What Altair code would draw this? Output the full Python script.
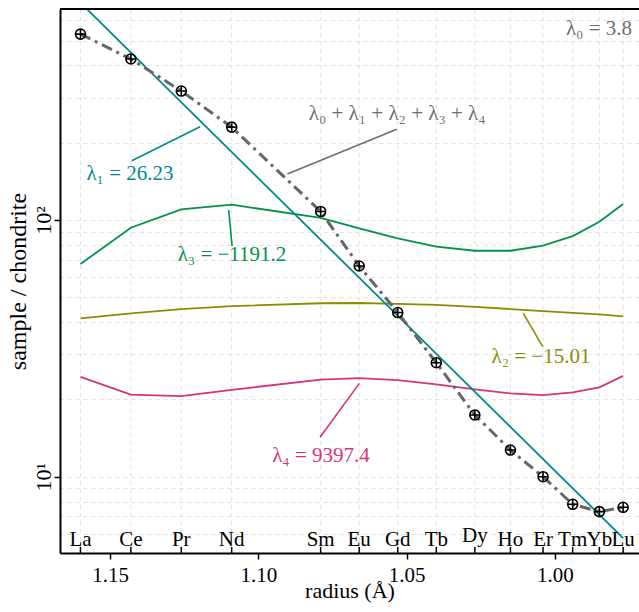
import altair as alt
import pandas as pd

# ---------------- data ----------------
elements = ["La", "Ce", "Pr", "Nd", "Sm", "Eu", "Gd", "Tb", "Dy", "Ho", "Er", "Tm", "Yb", "Lu"]
radius = [1.160, 1.143, 1.126, 1.109, 1.079, 1.066, 1.053, 1.040, 1.027, 1.015, 1.004, 0.994, 0.985, 0.977]
sample = [530, 424, 318, 230, 108, 66.2, 43.6, 27.8, 17.4, 12.7, 10.0, 7.81, 7.31, 7.60]

lambda1_r = [1.160, 0.977]
lambda1_v = [702, 5.77]
lambda2 = [41.4, 43.3, 45.0, 46.2, 47.4, 47.5, 47.1, 46.7, 45.9, 45.0, 44.2, 43.5, 42.9, 42.1]
lambda3 = [67.4, 93.3, 110.1, 114.7, 102.0, 92.8, 84.9, 78.8, 75.9, 75.9, 79.4, 86.6, 98.5, 115.4]
lambda4 = [24.5, 20.9, 20.6, 21.8, 23.9, 24.2, 23.8, 22.9, 21.9, 21.1, 20.8, 21.3, 22.3, 24.7]

x_tick_values = [1.15, 1.10, 1.05, 1.00]
y_grid_values = [5, 6, 7, 8, 9, 10, 20, 30, 40, 50, 60, 70, 80, 90, 100, 200, 300, 400, 500, 600]
y_tick_values = [10, 100]
y_tick_labels = ["10¹", "10²"]

ann_text = ["λ₀ = 3.8", "λ₀ + λ₁ + λ₂ + λ₃ + λ₄", "λ₁ = 26.23", "λ₃ = −1191.2", "λ₂ = −15.01", "λ₄ = 9397.4"]
ann_r = [0.974, 1.0532, 1.1433, 1.1089, 1.0047, 1.0789]
ann_v = [525.7, 245.3, 143.2, 69.2, 27.7, 11.41]
ann_key = ["sum", "sum", "l1", "l3", "l2", "l4"]
ann_align = ["right", "center", "center", "center", "center", "center"]

lead_key = ["sum", "l1", "l3", "l2", "l4"]
lead_r1 = [1.05334, 1.14268, 1.1100, 1.01065, 1.0792]
lead_v1 = [225.6, 170.2, 109.4, 43.3, 14.24]
lead_r2 = [1.09022, 1.11966, 1.10887, 1.00411, 1.06595]
lead_v2 = [151.1, 230.9, 79.2, 32.1, 23.1]

# ---------------- styles ----------------
FONT = "Liberation Serif"
COLORS = {"sum": "#6e6e6e", "l1": "#00898c", "l2": "#8c8c00", "l3": "#00924a", "l4": "#d8327a"}
W, H = 579, 544

x_scale = alt.Scale(domain=[0.97164, 1.1669], reverse=True, nice=False, zero=False)
y_scale = alt.Scale(type="log", domain=[5.045, 663.7], nice=False)

df = pd.DataFrame({"element": elements, "radius": radius, "sample": sample})

long_rows = []
for key, vals in (("l2", lambda2), ("l3", lambda3), ("l4", lambda4)):
    for r, v in zip(radius, vals):
        long_rows.append({"series": key, "radius": r, "value": v, "col": COLORS[key]})
lam_df = pd.DataFrame(long_rows)
l1_df = pd.DataFrame({"radius": lambda1_r, "value": lambda1_v})

ann_df = pd.DataFrame({"text": ann_text, "radius": ann_r, "value": ann_v,
                       "col": [COLORS[k] for k in ann_key], "align": ann_align})
lead_df = pd.DataFrame({"r1": lead_r1, "v1": lead_v1, "r2": lead_r2, "v2": lead_v2,
                        "col": [COLORS[k] for k in lead_key]})

label_expr = " : ".join(
    [f"datum.value == {v} ? '{t}'" for v, t in zip(y_tick_values, y_tick_labels)]) + " : ''"
tick_test = " || ".join([f"datum.value == {v}" for v in y_tick_values])

x_axis = alt.Axis(values=x_tick_values, format=".2f", grid=False, tickSize=6, tickWidth=1.5,
                  tickColor="black", domainColor="black", domainWidth=2,
                  labelFont=FONT, labelFontSize=21, labelColor="black", labelPadding=5,
                  title="radius (Å)", titleFont=FONT, titleFontSize=22, titleFontWeight="normal",
                  titleColor="black", titleBaseline="alphabetic", titleY=44)

y_axis = alt.Axis(values=y_grid_values, grid=True, gridDash=[4, 4], gridColor="#e0e0e0", gridWidth=1,
                  labelExpr=label_expr, labelAngle=270, labelAlign="center", labelBaseline="alphabetic",
                  labelPadding=4, labelFont=FONT, labelFontSize=22, labelColor="black", labelOverlap=False,
                  tickOpacity={"condition": {"test": tick_test, "value": 1}, "value": 0},
                  tickSize=6, tickWidth=1.5, tickColor="black",
                  domainColor="black", domainWidth=2,
                  title="sample / chondrite", titleFont=FONT, titleFontSize=24, titleFontWeight="normal",
                  titleColor="black", titleAngle=270, titleAlign="center", titleBaseline="middle",
                  titleX=-42, titleY=272)


def X(field):
    return alt.X(field, type="quantitative", scale=x_scale, axis=x_axis)


def Y(field):
    return alt.Y(field, type="quantitative", scale=y_scale, axis=y_axis)


base = alt.Chart(df)

# vertical dashed grid at element positions
vgrid = base.mark_rule(color="#e0e0e0", strokeWidth=1, strokeDash=[4, 4]).encode(
    x=X("radius"), y=alt.value(0), y2=alt.value(H))

# hidden layer carrying the y axis
yaxis_layer = base.mark_point(opacity=0).encode(x=X("radius"), y=Y("sample"))

lam_lines = alt.Chart(lam_df).mark_line(strokeWidth=1.8).encode(
    x=X("radius"), y=Y("value"),
    color=alt.Color("col:N", scale=None),
    detail="series:N")

l1_line = alt.Chart(l1_df).mark_line(strokeWidth=1.8, color=COLORS["l1"], clip=True).encode(
    x=X("radius"), y=Y("value"))

fit_line = base.mark_line(strokeWidth=3, color="#666666", strokeDash=[11, 5, 3, 5]).encode(
    x=X("radius"), y=Y("sample"))

circles = base.mark_point(shape="circle", size=100, filled=False, color="black", strokeWidth=1.6,
                          opacity=1).encode(x=X("radius"), y=Y("sample"))

pluses = base.mark_point(shape="M-1,0H1M0,-1V1", size=100, filled=False, color="black",
                         strokeWidth=1.6, opacity=1).encode(x=X("radius"), y=Y("sample"))

leaders = alt.Chart(lead_df).mark_rule(strokeWidth=1.6).encode(
    x=X("r1"), x2="r2:Q",
    y=Y("v1"), y2="v2:Q",
    color=alt.Color("col:N", scale=None))

ann_center = alt.Chart(ann_df).transform_filter("datum.align == 'center'").mark_text(
    font=FONT, fontSize=21, align="center", baseline="alphabetic").encode(
    x=X("radius"), y=Y("value"),
    text="text:N", color=alt.Color("col:N", scale=None))

ann_right = alt.Chart(ann_df).transform_filter("datum.align == 'right'").mark_text(
    font=FONT, fontSize=21, align="right", baseline="alphabetic").encode(
    x=X("radius"), y=Y("value"),
    text="text:N", color=alt.Color("col:N", scale=None))

# element ticks (inside, on the bottom axis) and element labels
el_ticks = base.mark_rule(color="black", strokeWidth=1.5).encode(
    x=X("radius"), y=alt.value(H - 6), y2=alt.value(H))

el_labels = base.transform_calculate(
    dy="indexof(datum.element, 'y') >= 0 ? -4 : 0").mark_text(
    font=FONT, fontSize=21, align="center", baseline="alphabetic", color="black").encode(
    x=X("radius"),
    y=alt.value(H - 7),
    yOffset=alt.YOffset("dy:Q", scale=None),
    text="element:N")

top_border = base.mark_rule(color="black", strokeWidth=2).encode(
    x=alt.value(0), x2=alt.value(W), y=alt.value(0))

chart = alt.layer(
    vgrid, yaxis_layer, lam_lines, l1_line, fit_line, circles, pluses,
    leaders, ann_center, ann_right, el_ticks, el_labels, top_border
).properties(
    width=W, height=H,
    autosize=alt.AutoSizeParams(type="none"),
    padding={"left": 60, "top": 9, "right": 0, "bottom": 59},
).configure_view(stroke=None).configure(background="white")

chart.save("out.html", embed_options={"renderer": "svg", "actions": False})
